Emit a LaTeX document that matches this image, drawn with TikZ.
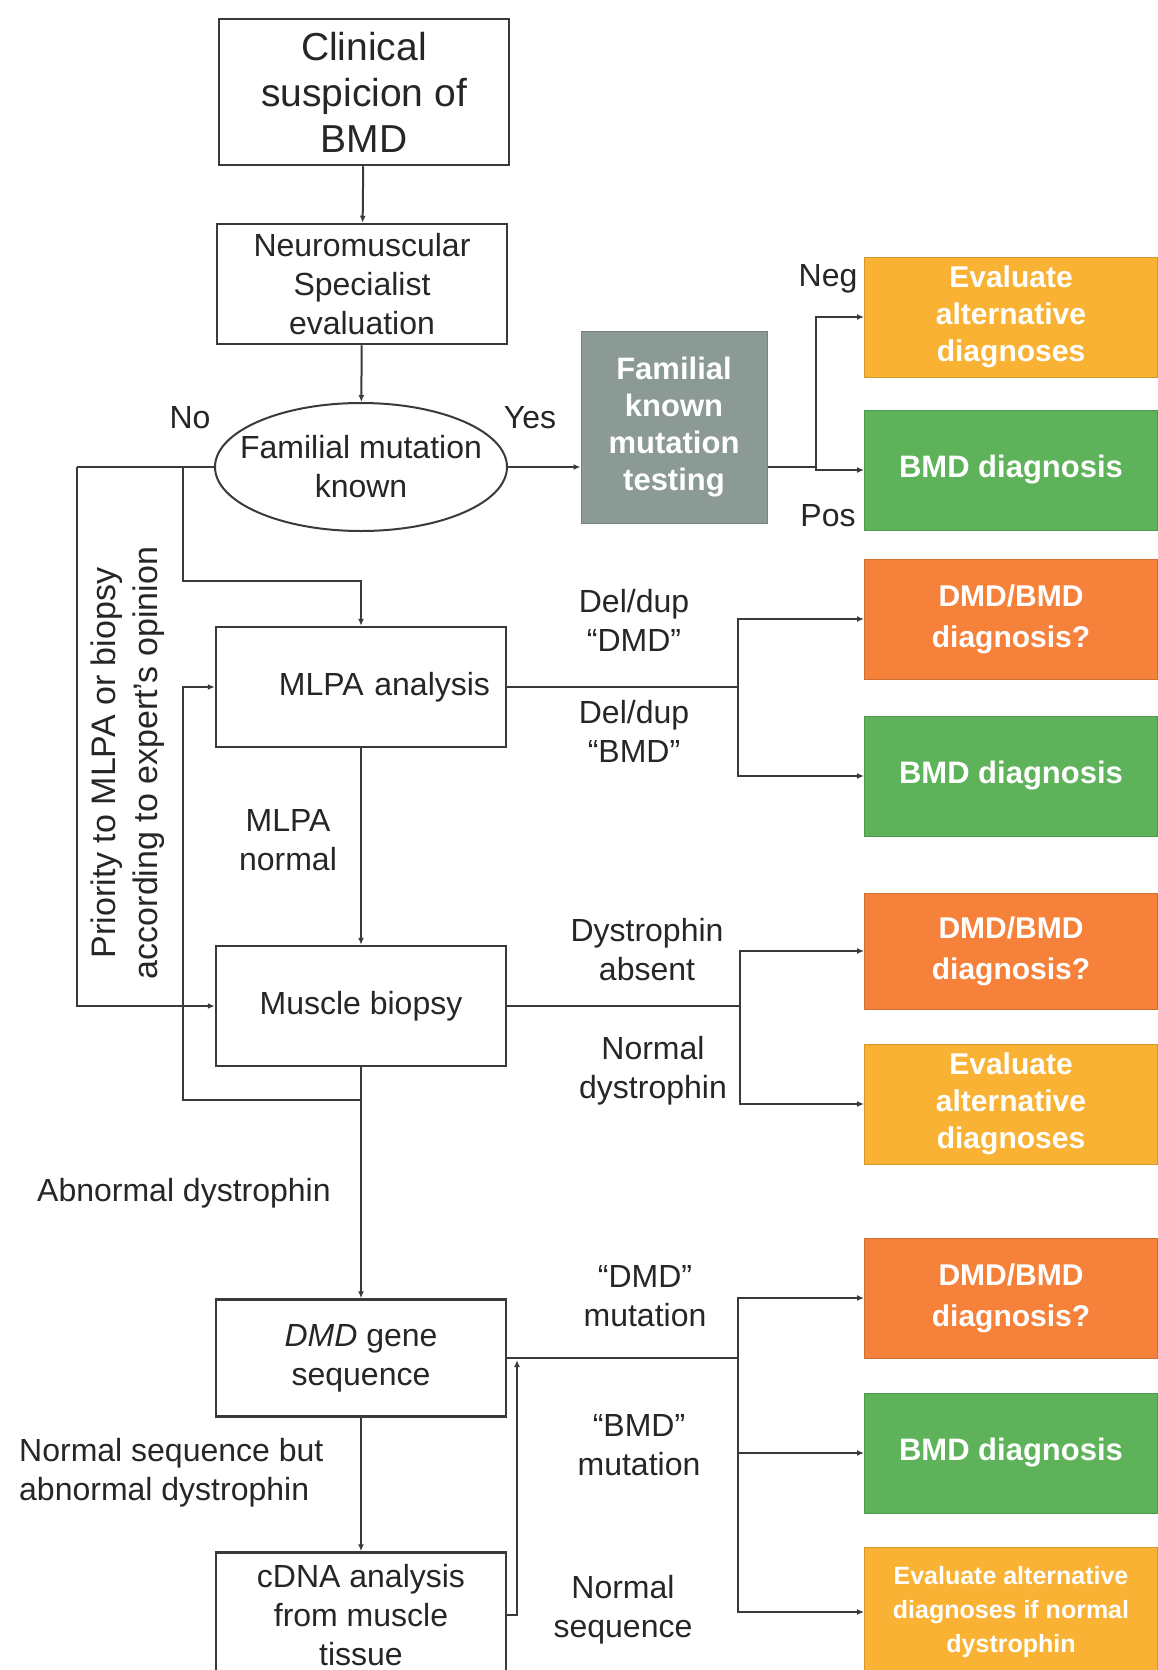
\documentclass[tikz,border=0pt]{standalone}
\usepackage{fontspec}
\setmainfont{Liberation Sans}
\usetikzlibrary{shapes.geometric,arrows.meta}
\definecolor{evalcol}{HTML}{F9B233}
\definecolor{dmdcol}{HTML}{F5813A}
\definecolor{bmdcol}{HTML}{5EB35A}
\definecolor{testcol}{HTML}{8C9A95}
\definecolor{linecol}{HTML}{3A3A3A}
\newcommand{\fsz}[2]{\fontsize{#1}{#2}\selectfont}
\begin{document}
\begin{tikzpicture}[x=1pt,y=-1pt,
  box/.style={draw=linecol,line width=2.5pt,minimum width=290pt,minimum height=120pt,inner sep=0pt,align=center,text=black!85,font=\fsz{32}{39}},
  result/.style={fill=#1,draw=#1!85!black,line width=1pt,minimum width=293pt,minimum height=120pt,inner sep=0pt,align=center,text=white,font=\bfseries\fsz{30}{37}},
  lbl/.style={align=center,text=black!85,font=\fsz{32}{39},inner sep=0pt},
  arr/.style={draw=linecol,line width=2pt,-{Latex[length=7pt,width=6pt]}},
  con/.style={draw=linecol,line width=2pt}]
\useasboundingbox (0,0) rectangle (1158,1670);

\node[box,font=\fsz{39}{46},minimum height=146pt] (clin) at (364,92) {Clinical\\suspicion of\\BMD};
\node[box] (neur) at (362,284) {Neuromuscular\\Specialist\\evaluation};
\node[draw=linecol,line width=2pt,ellipse,minimum width=292pt,minimum height=128pt,inner xsep=-21pt,inner ysep=0pt,align=center,text=black!85,font=\fsz{32}{39}] (fam) at (361,467) {Familial mutation\\known};
\node[result=testcol,minimum width=186pt,minimum height=192pt,font=\bfseries\fsz{31}{37}] (fkt) at (674,427) {Familial\\known\\mutation\\testing};
\node[result=evalcol] (ev1) at (1011,317) {Evaluate\\alternative\\diagnoses};
\node[result=bmdcol,font=\bfseries\fsz{31}{38}] (bd1) at (1011,470) {BMD diagnosis};

\node[box,text width=258pt,align=right] (mla) at (361,687) {MLPA analysis};
\node[box] (mus) at (361,1006) {Muscle biopsy};
\node[box,minimum height=117pt] (seq) at (361,1358) {\textit{DMD} gene\\sequence};
\node[box,minimum height=125pt] (cdn) at (361,1615) {cDNA analysis\\from muscle\\tissue};

\node[result=dmdcol,font=\bfseries\fsz{30}{41}] (dx1) at (1011,619) {DMD/BMD\\diagnosis?};
\node[result=bmdcol,font=\bfseries\fsz{31}{38}] (bd2) at (1011,776) {BMD diagnosis};
\node[result=dmdcol,font=\bfseries\fsz{30}{41},minimum height=116pt] (dx2) at (1011,951) {DMD/BMD\\diagnosis?};
\node[result=evalcol] (ev2) at (1011,1104) {Evaluate\\alternative\\diagnoses};
\node[result=dmdcol,font=\bfseries\fsz{30}{41}] (dx3) at (1011,1298) {DMD/BMD\\diagnosis?};
\node[result=bmdcol,font=\bfseries\fsz{31}{38}] (bd3) at (1011,1453) {BMD diagnosis};
\node[result=evalcol,font=\bfseries\fsz{25}{34},minimum height=130pt] (ev3) at (1011,1612) {Evaluate alternative\\diagnoses if normal\\dystrophin};

\node[lbl] (no) at (190,418) {No};
\node[lbl] (yes) at (530,418) {Yes};
\node[lbl] (neg) at (828,279) {Neg};
\node[lbl] (pos) at (828,516) {Pos};
\node[lbl] (deldmd) at (634,620) {Del/dup\\``DMD''};
\node[lbl] (delbmd) at (634,731) {Del/dup\\``BMD''};
\node[lbl] (mnorm) at (288,840) {MLPA\\normal};
\node[lbl] (dabs) at (647,950) {Dystrophin\\absent};
\node[lbl] (dnorm) at (653,1071) {Normal\\dystrophin};
\node[lbl,anchor=west] (abdys) at (37,1193) {Abnormal dystrophin};
\node[lbl,anchor=west,align=left] (nsab) at (19,1473) {Normal sequence but\\abnormal dystrophin};
\node[lbl] (mutdmd) at (645,1296) {``DMD''\\mutation};
\node[lbl] (mutbmd) at (639,1445) {``BMD''\\mutation};
\node[lbl] (nseq) at (623,1610) {Normal\\sequence};
\node[lbl,rotate=90,font=\fsz{34}{42}] (prio) at (128,763) {Priority to MLPA or biopsy\\according to expert's opinion};

\coordinate (lcorner) at (77,467);
\coordinate (nosplit) at (183,467);
\coordinate (nobend) at (183,581);
\coordinate (bkjoin) at (361,1100);

\draw[arr] (clin) -- (neur);
\draw[arr] (neur) -- (fam);
\draw[arr] (fam.east) -- (fam.east -| fkt.west);
\draw[con] (fkt.east |- fam.east) -- ++(48,0) coordinate (gsplit);
\draw[arr] (gsplit) |- (ev1.west);
\draw[arr] (gsplit) |- (bd1.west);

\draw[con] (fam.west) -- (lcorner);
\draw[arr] (lcorner) |- (mus.west);
\draw[arr] (nosplit) -- (nobend) -| (mla.north);
\draw[arr] (mla) -- (mus);
\draw[con] (mus.south) -- (bkjoin);
\draw[arr] (bkjoin) -| (nosplit |- mla.west) -- (mla.west);
\draw[arr] (bkjoin) -- (seq.north);
\draw[arr] (seq) -- (cdn);
\draw[arr] (cdn.east) -| (517,1360);

\draw[con] (mla.east) -- (738,687) coordinate (msplit);
\draw[arr] (msplit) |- (dx1.west);
\draw[arr] (msplit) |- (bd2.west);
\draw[con] (mus.east) -- (740,1006) coordinate (bsplit);
\draw[arr] (bsplit) |- (dx2.west);
\draw[arr] (bsplit) |- (ev2.west);
\draw[con] (seq.east) -- (738,1358) coordinate (ssplit);
\draw[arr] (ssplit) |- (dx3.west);
\draw[arr] (ssplit) |- (bd3.west);
\draw[arr] (ssplit) |- (ev3.west);
\end{tikzpicture}
\end{document}
